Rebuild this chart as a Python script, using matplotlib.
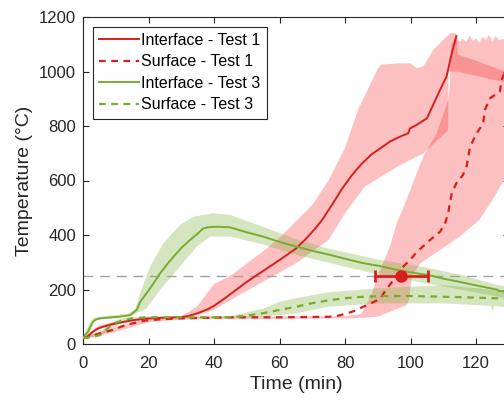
import numpy as np
import matplotlib
matplotlib.use('Agg')
import matplotlib.pyplot as plt

plt.rcParams['font.family'] = ['Liberation Sans', 'DejaVu Sans']

# ---- data ----
# Interface - Test 1 (red solid)
t_int1 = [0, 1.5, 3, 4.5, 6, 8, 11, 15, 19, 24, 29, 32, 35, 38, 40, 43, 45, 50, 55, 60,
          65, 68, 71, 73, 76, 79, 82, 85, 88, 91, 94, 97, 99.3, 99.8, 102, 105, 107, 109, 111, 112.6, 114]
T_int1 = [22, 28, 45, 56, 63, 70, 78, 87, 93, 96, 98, 102, 113, 127, 140, 165, 183, 228, 268, 308,
          350, 385, 425, 455, 510, 568, 618, 660, 695, 720, 745, 762, 773, 791, 805, 828, 880, 932, 981, 1067, 1130]

# Surface - Test 1 (red dashed)
t_sur1 = [0, 2, 5, 9, 13, 16, 19, 24, 30, 45, 60, 75, 78, 80.5, 83, 85.6, 88, 90.7, 92, 94.8,
          97.8, 100, 102, 104, 106, 109, 110.5, 111.5, 112, 112.6, 114, 116, 117.1, 118.2, 120.2, 122.2,
          122.7, 124.3, 127.3, 127.8, 128.9]
T_sur1 = [22, 26, 39, 51, 70, 78, 86, 91, 94, 98, 98, 100, 104, 112, 122, 137, 150, 165, 190, 235,
          284, 310, 339, 360, 382, 412, 440, 480, 516, 553, 590, 620, 651, 724, 773, 810,
          859, 902, 926, 969, 1000]

# Interface - Test 3 (green solid)
t_int3 = [0, 1.5, 3.1, 4, 5.2, 8, 11, 14.4, 16.4, 17.5, 19.4, 21.5, 23.5, 25.5, 27.6, 30, 32.7, 35, 36.7, 38,
          39.8, 42, 44.9, 50, 55, 60, 65.2, 70, 75.4, 80, 85, 90.7, 95, 100, 105.5, 110, 115, 120, 126.3, 127, 128.9]
T_int3 = [22, 45, 82, 90, 94, 97, 100, 106, 125, 155, 186, 222, 259, 290, 320, 352, 382, 405, 424, 428,
          430, 430, 428, 410, 394, 375, 357, 342, 327, 313, 298, 286, 274, 263, 253, 240, 228, 215, 200, 195, 192]

# Surface - Test 3 (green dashed)
t_sur3 = [0, 3, 5.2, 8.2, 10, 12.3, 15, 19.4, 25, 30, 45, 50, 55, 60, 65.2, 70, 75.4, 80, 85, 90.7,
          100, 108, 115, 120, 126.3, 128.9]
T_sur3 = [22, 26, 33, 64, 78, 88, 94, 98, 98, 98, 98, 104, 113, 125, 137, 150, 161, 168, 173, 176,
          176, 174, 172, 170, 168, 167]

# scatter bands (upper edge, lower edge)
band_int1_up_t = [0, 5, 10, 20, 30, 35, 40, 45, 50, 55, 60, 65, 70, 75, 80, 84, 88, 90, 91,
                  96, 100, 102, 104, 107, 112, 114, 114.5, 120, 128.9]
band_int1_up_T = [25, 68, 82, 96, 100, 140, 220, 250, 295, 340, 390, 450, 510, 600, 720, 860, 960, 1010, 1025,
                  1030, 1030, 1012, 1020, 1080, 1140, 1140, 1061, 1040, 1000]
band_int1_lo_t = [0, 5, 10, 20, 30, 35, 40, 45, 55, 65, 75, 80, 86, 96, 104, 111.5, 111.6, 114.5, 128.9]
band_int1_lo_T = [20, 55, 72, 90, 96, 105, 125, 161, 229, 296, 382, 480, 577, 651, 700, 785, 1000, 999, 960]

band_sur1_up_t = [0, 5, 10, 20, 30, 80, 85, 88, 90, 93.7, 96, 98.8, 101, 104, 108, 111.5, 112, 112.5,
                  114, 115, 116, 117, 118, 119, 120, 121, 122, 123, 124, 125, 126, 127, 128.9]
band_sur1_up_T = [24, 45, 62, 94, 100, 102, 110, 180, 250, 357, 450, 528, 600, 690, 773, 895, 944, 1100,
                  1125, 1110, 1120, 1108, 1132, 1112, 1122, 1105, 1128, 1115, 1135, 1110, 1130, 1115, 1120]
band_sur1_lo_t = [0, 5, 10, 20, 30, 82, 90, 98.8, 99.5, 100.5, 103, 109, 115, 121, 125, 128.9]
band_sur1_lo_T = [20, 30, 45, 80, 90, 94, 100, 143, 160, 250, 296, 345, 394, 455, 528, 610]

band_int3_up_t = [0, 2, 3, 5, 14, 16, 17.4, 20.5, 24.5, 29.6, 33.7, 39.8, 45, 55, 65, 75, 90, 105, 115, 126, 128.9]
band_int3_up_T = [27, 75, 95, 100, 112, 130, 186, 284, 369, 437, 467, 480, 473, 430, 385, 350, 310, 280, 255, 218, 212]
band_int3_lo_t = [0, 2, 3, 5, 14, 19.4, 23.5, 29.6, 34.7, 38.8, 45, 55, 65, 75, 90, 105, 115, 126, 128.9]
band_int3_lo_T = [20, 40, 80, 90, 100, 130, 198, 284, 357, 394, 394, 365, 327, 298, 255, 222, 200, 175, 170]

band_sur3_up_t = [0, 5, 8, 12, 20, 45, 55, 60, 65, 75, 90, 110, 126, 128.9]
band_sur3_up_T = [27, 42, 75, 95, 101, 102, 130, 155, 168, 190, 204, 216, 198, 195]
band_sur3_lo_t = [0, 5, 8, 12, 20, 45, 55, 65, 75, 90, 110, 124.5, 125, 125.5, 128.9]
band_sur3_lo_T = [20, 27, 50, 80, 95, 95, 100, 112, 137, 149, 149, 140, 118, 140, 135]

# failure point with spread
fail_t = 97
fail_T = 250
fail_terr = [[7.8], [8.4]]
threshold = 250

red = '#D81E1E'
green = '#77AC30'

fig = plt.figure(figsize=(5.04, 4), dpi=100)
ax = fig.add_axes([83 / 504, 56 / 400, 425.75 / 504, 327 / 400])


def band(ax, up_t, up_T, lo_t, lo_T, color, alpha):
    xs = list(up_t) + list(lo_t)[::-1]
    ys = list(up_T) + list(lo_T)[::-1]
    ax.fill(xs, ys, color=color, alpha=alpha, lw=0, zorder=1)


band(ax, band_int1_up_t, band_int1_up_T, band_int1_lo_t, band_int1_lo_T, '#F83535', 0.31)
band(ax, band_sur1_up_t, band_sur1_up_T, band_sur1_lo_t, band_sur1_lo_T, '#F83535', 0.31)
band(ax, band_int3_up_t, band_int3_up_T, band_int3_lo_t, band_int3_lo_T, green, 0.3)
band(ax, band_sur3_up_t, band_sur3_up_T, band_sur3_lo_t, band_sur3_lo_T, green, 0.3)

ax.axhline(threshold, color='#A0A0A0', lw=1.0, ls=(0, (7, 5)), zorder=2)

ax.plot(t_int1, T_int1, color=red, lw=1.4, label='Interface - Test 1', zorder=3)
ax.plot(t_sur1, T_sur1, color=red, lw=1.6, ls=(0, (3, 2.5)), label='Surface - Test 1', zorder=3)
ax.plot(t_int3, T_int3, color=green, lw=1.4, label='Interface - Test 3', zorder=3)
ax.plot(t_sur3, T_sur3, color=green, lw=1.6, ls=(0, (3, 2.5)), label='Surface - Test 3', zorder=3)

ax.errorbar(fail_t, fail_T, xerr=fail_terr, fmt='o', color=red, ms=8, lw=2,
            capsize=4, capthick=2, zorder=4)

ax.set_xlim(0, 130)
ax.set_ylim(0, 1200)
ax.set_xticks(np.arange(0, 121, 20))
ax.set_yticks(np.arange(0, 1201, 200))
ax.tick_params(direction='in', top=True, right=True, length=4, width=0.8,
               labelsize=12, colors='#262626', labelcolor='#262626')
ax.tick_params(axis='x', pad=9)
ax.tick_params(axis='y', pad=5)
for s in ax.spines.values():
    s.set_color('#262626')
    s.set_linewidth(0.8)

ax.set_xlabel('Time (min)', fontsize=14, color='#262626', labelpad=3)
ax.set_ylabel('Temperature (°C)', fontsize=14, color='#262626', labelpad=4)

leg = ax.legend(loc='upper left', fontsize=11.5, handlelength=2.5, handletextpad=0.15,
                labelspacing=0.4, borderpad=0.4, borderaxespad=0.6, fancybox=False,
                edgecolor='#262626', framealpha=1)
leg.get_frame().set_linewidth(0.8)

fig.savefig('out.png', dpi=100)
